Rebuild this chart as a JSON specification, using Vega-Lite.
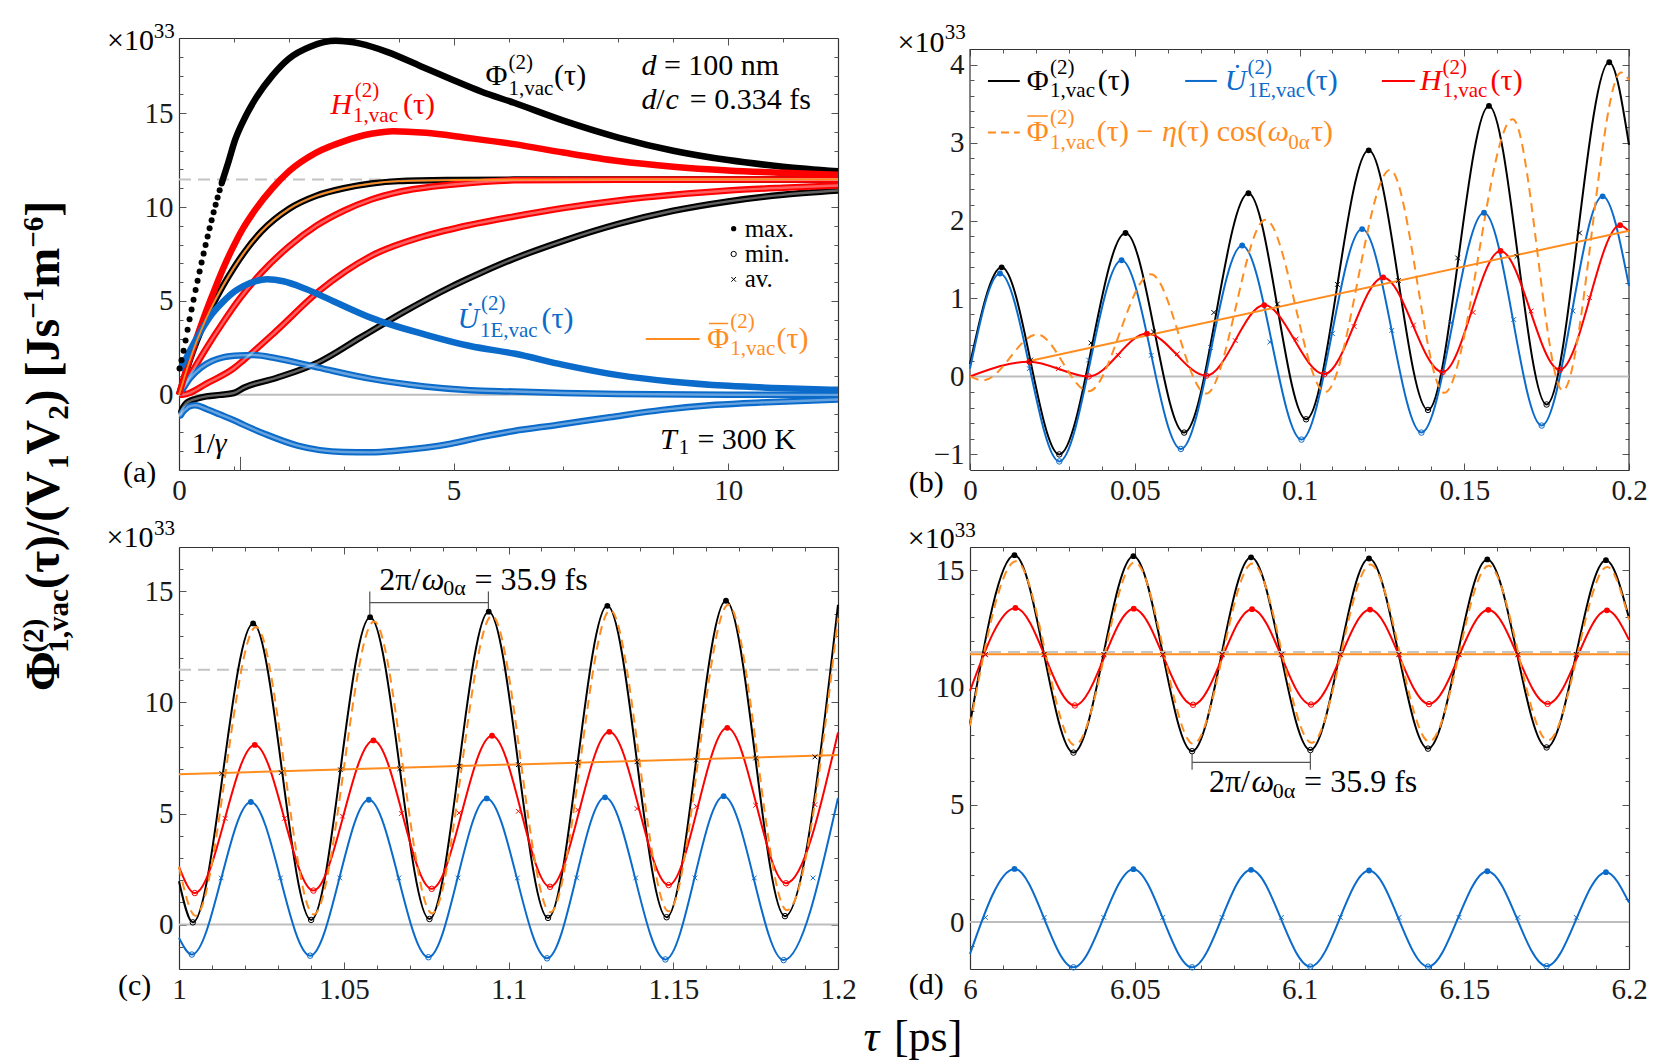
{
"$schema":"https://vega.github.io/schema/vega-lite/v6.json",
"background":"white",
"padding":{"left":20,"top":21,"right":10,"bottom":10},
"autosize":{"type":"pad"},
"config":{"font":"Liberation Serif, Times New Roman, DejaVu Serif, serif","view":{"stroke":null},
"axis":{"labelFont":"Liberation Serif, Times New Roman, DejaVu Serif, serif","labelFontSize":29,"labelColor":"#1a1a1a","tickColor":"#555555","tickWidth":1,"domainColor":"#333333","domainWidth":1.2,"grid":false,"labelFlush":false,"labelOverlap":false},
"text":{"font":"Liberation Serif, Times New Roman, DejaVu Serif, serif"}},
"columns":2,
"spacing":{"row":77,"column":132},
"bounds":"flush",
"datasets":{
"a_band":[
{"s":"P","k":"max","x":0.776,"y":11.26},{"s":"P","k":"max","x":0.9,"y":12.4},{"s":"P","k":"max","x":1.02,"y":13.56},{"s":"P","k":"max","x":1.17,"y":14.58},{"s":"P","k":"max","x":1.4,"y":15.8},{"s":"P","k":"max","x":1.7,"y":17.0},{"s":"P","k":"max","x":2.0,"y":17.9},{"s":"P","k":"max","x":2.4,"y":18.55},{"s":"P","k":"max","x":2.85,"y":18.85},{"s":"P","k":"max","x":3.3,"y":18.7},{"s":"P","k":"max","x":3.8,"y":18.25},{"s":"P","k":"max","x":4.4,"y":17.5},{"s":"P","k":"max","x":5.0,"y":16.75},{"s":"P","k":"max","x":5.5,"y":16.15},{"s":"P","k":"max","x":6.1,"y":15.55},{"s":"P","k":"max","x":7.0,"y":14.6},{"s":"P","k":"max","x":8.0,"y":13.7},{"s":"P","k":"max","x":9.0,"y":13.0},{"s":"P","k":"max","x":10.0,"y":12.5},{"s":"P","k":"max","x":11.0,"y":12.15},{"s":"P","k":"max","x":12,"y":11.9},
{"s":"P","k":"min","x":0,"y":-1.05},{"s":"P","k":"min","x":0.027,"y":-1.0},{"s":"P","k":"min","x":0.065,"y":-0.72},{"s":"P","k":"min","x":0.102,"y":-0.55},{"s":"P","k":"min","x":0.139,"y":-0.43},{"s":"P","k":"min","x":0.175,"y":-0.36},{"s":"P","k":"min","x":0.3,"y":-0.22},{"s":"P","k":"min","x":0.5,"y":-0.08},{"s":"P","k":"min","x":0.75,"y":0.0},{"s":"P","k":"min","x":1.0,"y":0.1},{"s":"P","k":"min","x":1.18,"y":0.38},{"s":"P","k":"min","x":1.77,"y":0.9},{"s":"P","k":"min","x":2.54,"y":1.73},{"s":"P","k":"min","x":3.31,"y":3.06},{"s":"P","k":"min","x":4.08,"y":4.39},{"s":"P","k":"min","x":4.95,"y":5.75},{"s":"P","k":"min","x":5.5,"y":6.5},{"s":"P","k":"min","x":6.1,"y":7.25},{"s":"P","k":"min","x":7.0,"y":8.2},{"s":"P","k":"min","x":8.0,"y":9.1},{"s":"P","k":"min","x":9.0,"y":9.8},{"s":"P","k":"min","x":10.0,"y":10.3},{"s":"P","k":"min","x":11.0,"y":10.65},{"s":"P","k":"min","x":12,"y":10.88},
{"s":"P","k":"av","x":0,"y":0},{"s":"P","k":"av","x":0.1,"y":0.95},{"s":"P","k":"av","x":0.2,"y":1.87},{"s":"P","k":"av","x":0.5,"y":4.1},{"s":"P","k":"av","x":0.8,"y":5.8},{"s":"P","k":"av","x":1.0,"y":6.77},{"s":"P","k":"av","x":1.2,"y":7.63},{"s":"P","k":"av","x":1.5,"y":8.7},{"s":"P","k":"av","x":2.0,"y":9.9},{"s":"P","k":"av","x":2.5,"y":10.6},{"s":"P","k":"av","x":3.0,"y":11.0},{"s":"P","k":"av","x":3.5,"y":11.25},{"s":"P","k":"av","x":4.0,"y":11.38},{"s":"P","k":"av","x":5.0,"y":11.44},{"s":"P","k":"av","x":6.1,"y":11.46},{"s":"P","k":"av","x":12,"y":11.47},
{"s":"H","k":"max","x":0,"y":0},{"s":"H","k":"max","x":0.018,"y":0.19},{"s":"H","k":"max","x":0.054,"y":0.55},{"s":"H","k":"max","x":0.089,"y":0.915},{"s":"H","k":"max","x":0.125,"y":1.27},{"s":"H","k":"max","x":0.161,"y":1.61},{"s":"H","k":"max","x":0.197,"y":1.94},{"s":"H","k":"max","x":0.3,"y":2.85},{"s":"H","k":"max","x":0.45,"y":4.1},{"s":"H","k":"max","x":0.6,"y":5.25},{"s":"H","k":"max","x":0.8,"y":6.7},{"s":"H","k":"max","x":1.023,"y":8.09},{"s":"H","k":"max","x":1.166,"y":8.86},{"s":"H","k":"max","x":1.4,"y":9.9},{"s":"H","k":"max","x":1.7,"y":11.0},{"s":"H","k":"max","x":2.0,"y":11.9},{"s":"H","k":"max","x":2.5,"y":12.9},{"s":"H","k":"max","x":3.0,"y":13.5},{"s":"H","k":"max","x":3.5,"y":13.9},{"s":"H","k":"max","x":3.9,"y":14.04},{"s":"H","k":"max","x":4.5,"y":13.95},{"s":"H","k":"max","x":5.2,"y":13.7},{"s":"H","k":"max","x":6.1,"y":13.35},{"s":"H","k":"max","x":7.0,"y":12.9},{"s":"H","k":"max","x":8.0,"y":12.45},{"s":"H","k":"max","x":9.0,"y":12.15},{"s":"H","k":"max","x":10.0,"y":11.95},{"s":"H","k":"max","x":11.0,"y":11.82},{"s":"H","k":"max","x":12,"y":11.72},
{"s":"H","k":"av","x":0,"y":0},{"s":"H","k":"av","x":0.1,"y":0.48},{"s":"H","k":"av","x":0.2,"y":1.02},{"s":"H","k":"av","x":0.5,"y":2.5},{"s":"H","k":"av","x":0.8,"y":3.85},{"s":"H","k":"av","x":1.1,"y":5.1},{"s":"H","k":"av","x":1.5,"y":6.5},{"s":"H","k":"av","x":2.0,"y":7.9},{"s":"H","k":"av","x":2.5,"y":9.0},{"s":"H","k":"av","x":3.0,"y":9.8},{"s":"H","k":"av","x":3.5,"y":10.4},{"s":"H","k":"av","x":4.0,"y":10.8},{"s":"H","k":"av","x":5.0,"y":11.2},{"s":"H","k":"av","x":6.1,"y":11.42},{"s":"H","k":"av","x":8,"y":11.45},{"s":"H","k":"av","x":12,"y":11.47},
{"s":"H","k":"min","x":0,"y":0},{"s":"H","k":"min","x":0.036,"y":0.0},{"s":"H","k":"min","x":0.108,"y":0.03},{"s":"H","k":"min","x":0.179,"y":0.085},{"s":"H","k":"min","x":0.5,"y":0.6},{"s":"H","k":"min","x":1.0,"y":1.42},{"s":"H","k":"min","x":1.18,"y":1.86},{"s":"H","k":"min","x":1.77,"y":3.4},{"s":"H","k":"min","x":2.54,"y":5.5},{"s":"H","k":"min","x":3.5,"y":7.4},{"s":"H","k":"min","x":4.47,"y":8.45},{"s":"H","k":"min","x":5.3,"y":9.05},{"s":"H","k":"min","x":6.1,"y":9.5},{"s":"H","k":"min","x":7.0,"y":9.95},{"s":"H","k":"min","x":8.0,"y":10.35},{"s":"H","k":"min","x":9.0,"y":10.65},{"s":"H","k":"min","x":10.0,"y":10.88},{"s":"H","k":"min","x":11.0,"y":11.03},{"s":"H","k":"min","x":12,"y":11.15},
{"s":"U","k":"max","x":0.009,"y":1.32},{"s":"U","k":"max","x":0.046,"y":1.49},{"s":"U","k":"max","x":0.083,"y":1.68},{"s":"U","k":"max","x":0.119,"y":1.89},{"s":"U","k":"max","x":0.156,"y":2.1},{"s":"U","k":"max","x":0.192,"y":2.31},{"s":"U","k":"max","x":0.4,"y":3.4},{"s":"U","k":"max","x":0.6,"y":4.3},{"s":"U","k":"max","x":0.8,"y":4.95},{"s":"U","k":"max","x":1.02,"y":5.52},{"s":"U","k":"max","x":1.165,"y":5.78},{"s":"U","k":"max","x":1.4,"y":6.05},{"s":"U","k":"max","x":1.6,"y":6.15},{"s":"U","k":"max","x":1.9,"y":6.05},{"s":"U","k":"max","x":2.3,"y":5.65},{"s":"U","k":"max","x":2.8,"y":5.0},{"s":"U","k":"max","x":3.5,"y":4.1},{"s":"U","k":"max","x":4.5,"y":3.2},{"s":"U","k":"max","x":5.3,"y":2.6},{"s":"U","k":"max","x":6.1,"y":2.2},{"s":"U","k":"max","x":7.0,"y":1.6},{"s":"U","k":"max","x":8.0,"y":1.05},{"s":"U","k":"max","x":9.0,"y":0.7},{"s":"U","k":"max","x":10.0,"y":0.48},{"s":"U","k":"max","x":11.0,"y":0.35},{"s":"U","k":"max","x":12,"y":0.27},
{"s":"U","k":"av","x":0,"y":0},{"s":"U","k":"av","x":0.018,"y":0.1},{"s":"U","k":"av","x":0.1,"y":0.45},{"s":"U","k":"av","x":0.2,"y":0.88},{"s":"U","k":"av","x":0.4,"y":1.45},{"s":"U","k":"av","x":0.6,"y":1.8},{"s":"U","k":"av","x":0.8,"y":2.0},{"s":"U","k":"av","x":1.1,"y":2.1},{"s":"U","k":"av","x":1.35,"y":2.12},{"s":"U","k":"av","x":1.77,"y":1.95},{"s":"U","k":"av","x":2.54,"y":1.45},{"s":"U","k":"av","x":3.5,"y":0.85},{"s":"U","k":"av","x":4.47,"y":0.45},{"s":"U","k":"av","x":5.3,"y":0.25},{"s":"U","k":"av","x":6.1,"y":0.18},{"s":"U","k":"av","x":7.0,"y":0.1},{"s":"U","k":"av","x":8.0,"y":0.05},{"s":"U","k":"av","x":10,"y":0.01},{"s":"U","k":"av","x":12,"y":0.0},
{"s":"U","k":"min","x":0,"y":-1.1},{"s":"U","k":"min","x":0.027,"y":-1.09},{"s":"U","k":"min","x":0.064,"y":-0.93},{"s":"U","k":"min","x":0.1,"y":-0.81},{"s":"U","k":"min","x":0.137,"y":-0.72},{"s":"U","k":"min","x":0.174,"y":-0.63},{"s":"U","k":"min","x":0.3,"y":-0.55},{"s":"U","k":"min","x":0.5,"y":-0.75},{"s":"U","k":"min","x":0.75,"y":-1.05},{"s":"U","k":"min","x":1.0,"y":-1.35},{"s":"U","k":"min","x":1.18,"y":-1.6},{"s":"U","k":"min","x":1.58,"y":-2.1},{"s":"U","k":"min","x":2.16,"y":-2.7},{"s":"U","k":"min","x":3.0,"y":-3.04},{"s":"U","k":"min","x":3.5,"y":-3.06},{"s":"U","k":"min","x":4.0,"y":-2.96},{"s":"U","k":"min","x":4.95,"y":-2.6},{"s":"U","k":"min","x":5.5,"y":-2.25},{"s":"U","k":"min","x":6.1,"y":-1.92},{"s":"U","k":"min","x":6.88,"y":-1.6},{"s":"U","k":"min","x":7.84,"y":-1.19},{"s":"U","k":"min","x":8.8,"y":-0.8},{"s":"U","k":"min","x":9.77,"y":-0.53},{"s":"U","k":"min","x":10.7,"y":-0.39},{"s":"U","k":"min","x":12,"y":-0.25}
],
"a_dots":[{"x":0.0096,"y":1.4},{"x":0.046,"y":1.84},{"x":0.083,"y":2.35},{"x":0.12,"y":2.9},{"x":0.156,"y":3.47},{"x":0.192,"y":4.03},{"x":0.229,"y":4.55},{"x":0.265,"y":5.07},{"x":0.302,"y":5.58},{"x":0.338,"y":6.08},{"x":0.375,"y":6.57},{"x":0.411,"y":7.05},{"x":0.448,"y":7.52},{"x":0.484,"y":7.98},{"x":0.521,"y":8.43},{"x":0.557,"y":8.87},{"x":0.594,"y":9.3},{"x":0.63,"y":9.72},{"x":0.667,"y":10.12},{"x":0.703,"y":10.51},{"x":0.74,"y":10.89},{"x":0.776,"y":11.26}],
"a_tb":[{"x":5.58,"y":16.96,"t":"Φ","s":"P"},{"x":6.83,"y":17.0,"t":"(τ)","s":"P"},{"x":8.83,"y":17.49,"t":"= 100 nm","s":"P"},{"x":8.69,"y":15.72,"t":"/","s":"P"},{"x":9.3,"y":15.72,"t":"= 0.334 fs","s":"P"},{"x":4.08,"y":15.45,"t":"(τ)","s":"H"},{"x":6.6,"y":4.04,"t":"(τ)","s":"U"},{"x":9.62,"y":2.97,"t":"Φ","s":"O"},{"x":10.88,"y":2.97,"t":"(τ)","s":"O"},{"x":9.44,"y":-2.39,"t":"= 300 K","s":"P"},{"x":0.23,"y":-2.6,"t":"1/","s":"P"},{"x":-1.02,"y":-4.15,"t":"(a)","s":"P"},{"x":-1.31,"y":18.85,"t":"×10","s":"P"}],
"a_leg":[{"x":10.3,"y":8.85,"t":"max."},{"x":10.3,"y":7.5,"t":"min."},{"x":10.3,"y":6.15,"t":"av."}],
"a_ti":[{"x":8.42,"y":17.49,"t":"d","s":"P"},{"x":8.42,"y":15.72,"t":"d","s":"P"},{"x":8.86,"y":15.72,"t":"c","s":"P"},{"x":2.76,"y":15.45,"t":"H","s":"H"},{"x":5.07,"y":4.04,"t":"U̇","s":"U"},{"x":8.76,"y":-2.39,"t":"T","s":"P"},{"x":0.65,"y":-2.6,"t":"γ","s":"P"}],
"a_ts":[{"x":6.0,"y":17.66,"t":"(2)","s":"P"},{"x":6.0,"y":16.3,"t":"1,vac","s":"P"},{"x":3.2,"y":16.16,"t":"(2)","s":"H"},{"x":3.17,"y":14.83,"t":"1,vac","s":"H"},{"x":5.5,"y":4.83,"t":"(2)","s":"U"},{"x":5.48,"y":3.42,"t":"1E,vac","s":"U"},{"x":10.04,"y":3.86,"t":"(2)","s":"O"},{"x":10.04,"y":2.44,"t":"1,vac","s":"O"},{"x":9.1,"y":-2.85,"t":"1","s":"P"},{"x":-0.46,"y":19.3,"t":"33","s":"P"}],
"a_yb":[{"x":-2.436,"y":-15.77,"t":"Φ"},{"x":-2.436,"y":-10.34,"t":"(τ)/(V"},{"x":-2.436,"y":-3.18,"t":"V"},{"x":-2.436,"y":-0.56,"t":") [Js"},{"x":-2.436,"y":5.7,"t":"m"},{"x":-2.436,"y":9.48,"t":"]"}],
"a_ys":[{"x":-2.636,"y":-13.73,"t":"(2)"},{"x":-2.18,"y":-13.73,"t":"1,vac"},{"x":-2.18,"y":-3.95,"t":"1"},{"x":-2.18,"y":-1.33,"t":"2"},{"x":-2.636,"y":4.05,"t":"−1"},{"x":-2.636,"y":7.83,"t":"−6"}],
"b_curves":[
{"s":"P","k":"end","x":0,"y":0.16},{"s":"P","k":"max","x":0.0096,"y":1.4},{"s":"P","k":"min","x":0.0271,"y":-1.0},{"s":"P","k":"max","x":0.0472,"y":1.84},{"s":"P","k":"min","x":0.065,"y":-0.72},{"s":"P","k":"max","x":0.0845,"y":2.35},{"s":"P","k":"min","x":0.102,"y":-0.55},{"s":"P","k":"max","x":0.121,"y":2.9},{"s":"P","k":"min","x":0.139,"y":-0.43},{"s":"P","k":"max","x":0.1575,"y":3.47},{"s":"P","k":"min","x":0.175,"y":-0.36},{"s":"P","k":"max","x":0.194,"y":4.03},{"s":"P","k":"end","x":0.2,"y":2.97},
{"s":"U","k":"end","x":0,"y":0.1},{"s":"U","k":"max","x":0.0091,"y":1.32},{"s":"U","k":"min","x":0.0271,"y":-1.09},{"s":"U","k":"max","x":0.046,"y":1.49},{"s":"U","k":"min","x":0.064,"y":-0.93},{"s":"U","k":"max","x":0.0826,"y":1.68},{"s":"U","k":"min","x":0.1006,"y":-0.81},{"s":"U","k":"max","x":0.119,"y":1.89},{"s":"U","k":"min","x":0.137,"y":-0.72},{"s":"U","k":"max","x":0.156,"y":2.1},{"s":"U","k":"min","x":0.1735,"y":-0.63},{"s":"U","k":"max","x":0.192,"y":2.31},{"s":"U","k":"end","x":0.2,"y":1.16},
{"s":"H","k":"end","x":0,"y":0},{"s":"H","k":"max","x":0.018,"y":0.19},{"s":"H","k":"min","x":0.036,"y":0.0},{"s":"H","k":"max","x":0.0537,"y":0.55},{"s":"H","k":"min","x":0.0717,"y":0.01},{"s":"H","k":"max","x":0.0893,"y":0.915},{"s":"H","k":"min","x":0.1075,"y":0.03},{"s":"H","k":"max","x":0.1254,"y":1.27},{"s":"H","k":"min","x":0.1434,"y":0.055},{"s":"H","k":"max","x":0.161,"y":1.61},{"s":"H","k":"min","x":0.179,"y":0.085},{"s":"H","k":"max","x":0.1973,"y":1.94},{"s":"H","k":"end","x":0.2,"y":1.86},
{"s":"O","k":"end","x":0,"y":0.0},{"s":"O","k":"min","x":0.004,"y":-0.05},{"s":"O","k":"max","x":0.0204,"y":0.54},{"s":"O","k":"min","x":0.036,"y":-0.19},{"s":"O","k":"max","x":0.0549,"y":1.31},{"s":"O","k":"min","x":0.0717,"y":-0.22},{"s":"O","k":"max","x":0.0897,"y":2.01},{"s":"O","k":"min","x":0.1078,"y":-0.2},{"s":"O","k":"max","x":0.1275,"y":2.65},{"s":"O","k":"min","x":0.1439,"y":-0.21},{"s":"O","k":"max","x":0.1647,"y":3.3},{"s":"O","k":"min","x":0.1799,"y":-0.18},{"s":"O","k":"max","x":0.1976,"y":3.9},{"s":"O","k":"end","x":0.2,"y":3.8}
],
"b_av":[{"s":"P","x":0.0184,"y":0.21},{"s":"P","x":0.0367,"y":0.43},{"s":"P","x":0.0557,"y":0.57},{"s":"P","x":0.074,"y":0.82},{"s":"P","x":0.0933,"y":0.93},{"s":"P","x":0.1115,"y":1.18},{"s":"P","x":0.13,"y":1.23},{"s":"P","x":0.148,"y":1.52},{"s":"P","x":0.166,"y":1.54},{"s":"P","x":0.185,"y":1.84},
{"s":"U","x":0.018,"y":0.1},{"s":"U","x":0.036,"y":0.21},{"s":"U","x":0.055,"y":0.27},{"s":"U","x":0.073,"y":0.37},{"s":"U","x":0.091,"y":0.44},{"s":"U","x":0.11,"y":0.55},{"s":"U","x":0.128,"y":0.59},{"s":"U","x":0.146,"y":0.69},{"s":"U","x":0.165,"y":0.73},{"s":"U","x":0.183,"y":0.84},
{"s":"H","x":0.0268,"y":0.1},{"s":"H","x":0.045,"y":0.27},{"s":"H","x":0.0629,"y":0.29},{"s":"H","x":0.0805,"y":0.46},{"s":"H","x":0.099,"y":0.48},{"s":"H","x":0.1166,"y":0.64},{"s":"H","x":0.1346,"y":0.66},{"s":"H","x":0.1527,"y":0.82},{"s":"H","x":0.1703,"y":0.84},{"s":"H","x":0.188,"y":1.01}],
"b_tb":[{"x":0.0172,"y":3.79,"t":"Φ","s":"P"},{"x":0.0388,"y":3.79,"t":"(τ)","s":"P"},{"x":0.1019,"y":3.79,"t":"(τ)","s":"U"},{"x":0.158,"y":3.79,"t":"(τ)","s":"H"},{"x":0.0172,"y":3.13,"t":"Φ","s":"O"},{"x":0.0385,"y":3.13,"t":"(τ) −","s":"O"},{"x":0.0629,"y":3.13,"t":"(τ) cos(","s":"O"},{"x":0.1035,"y":3.13,"t":"τ)","s":"O"},{"x":-0.0186,"y":-1.37,"t":"(b)","s":"P"},{"x":-0.022,"y":4.28,"t":"×10","s":"P"}],
"b_ti":[{"x":0.0773,"y":3.79,"t":"U̇","s":"U"},{"x":0.1366,"y":3.79,"t":"H","s":"H"},{"x":0.0583,"y":3.13,"t":"η","s":"O"},{"x":0.0904,"y":3.13,"t":"ω","s":"O"}],
"b_ts":[{"x":0.0243,"y":3.95,"t":"(2)","s":"P"},{"x":0.0243,"y":3.66,"t":"1,vac","s":"P"},{"x":0.0842,"y":3.95,"t":"(2)","s":"U"},{"x":0.0842,"y":3.66,"t":"1E,vac","s":"U"},{"x":0.1434,"y":3.95,"t":"(2)","s":"H"},{"x":0.1434,"y":3.66,"t":"1,vac","s":"H"},{"x":0.0243,"y":3.31,"t":"(2)","s":"O"},{"x":0.0243,"y":3.0,"t":"1,vac","s":"O"},{"x":0.0966,"y":3.0,"t":"0α","s":"O"},{"x":-0.0077,"y":4.4,"t":"33","s":"P"}],
"b_leg":[{"x":0.00545,"x2":0.0151,"y":3.79,"s":"P"},{"x":0.0653,"x2":0.0749,"y":3.79,"s":"U"},{"x":0.125,"x2":0.135,"y":3.79,"s":"H"}],
"c_curves":[
{"s":"P","k":"end","x":1.0,"y":1.95},{"s":"P","k":"min","x":1.0042,"y":0.1},{"s":"P","k":"max","x":1.0225,"y":13.56},{"s":"P","k":"min","x":1.0401,"y":0.21},{"s":"P","k":"max","x":1.058,"y":13.84},{"s":"P","k":"min","x":1.076,"y":0.25},{"s":"P","k":"max","x":1.094,"y":14.09},{"s":"P","k":"min","x":1.112,"y":0.3},{"s":"P","k":"max","x":1.13,"y":14.35},{"s":"P","k":"min","x":1.148,"y":0.33},{"s":"P","k":"max","x":1.166,"y":14.58},{"s":"P","k":"min","x":1.1839,"y":0.38},{"s":"P","k":"end","x":1.2,"y":14.4},
{"s":"U","k":"end","x":1.0,"y":-0.6},{"s":"U","k":"min","x":1.0039,"y":-1.35},{"s":"U","k":"max","x":1.0218,"y":5.52},{"s":"U","k":"min","x":1.0398,"y":-1.4},{"s":"U","k":"max","x":1.0576,"y":5.62},{"s":"U","k":"min","x":1.0757,"y":-1.47},{"s":"U","k":"max","x":1.0934,"y":5.68},{"s":"U","k":"min","x":1.1117,"y":-1.52},{"s":"U","k":"max","x":1.1293,"y":5.73},{"s":"U","k":"min","x":1.1476,"y":-1.57},{"s":"U","k":"max","x":1.1653,"y":5.78},{"s":"U","k":"min","x":1.1835,"y":-1.6},{"s":"U","k":"end","x":1.2,"y":5.7},
{"s":"H","k":"end","x":1.0,"y":2.6},{"s":"H","k":"min","x":1.0048,"y":1.42},{"s":"H","k":"max","x":1.023,"y":8.09},{"s":"H","k":"min","x":1.0408,"y":1.53},{"s":"H","k":"max","x":1.059,"y":8.29},{"s":"H","k":"min","x":1.0767,"y":1.61},{"s":"H","k":"max","x":1.095,"y":8.5},{"s":"H","k":"min","x":1.1126,"y":1.7},{"s":"H","k":"max","x":1.1306,"y":8.68},{"s":"H","k":"min","x":1.1486,"y":1.78},{"s":"H","k":"max","x":1.1664,"y":8.86},{"s":"H","k":"min","x":1.1842,"y":1.86},{"s":"H","k":"end","x":1.2,"y":8.65},
{"s":"O","k":"end","x":1.0,"y":2.6},{"s":"O","k":"min","x":1.005,"y":0.4},{"s":"O","k":"max","x":1.0234,"y":13.4},{"s":"O","k":"min","x":1.0409,"y":0.45},{"s":"O","k":"max","x":1.0592,"y":13.65},{"s":"O","k":"min","x":1.0768,"y":0.5},{"s":"O","k":"max","x":1.095,"y":13.9},{"s":"O","k":"min","x":1.1127,"y":0.55},{"s":"O","k":"max","x":1.1309,"y":14.15},{"s":"O","k":"min","x":1.1486,"y":0.6},{"s":"O","k":"max","x":1.1667,"y":14.4},{"s":"O","k":"min","x":1.1845,"y":0.65},{"s":"O","k":"end","x":1.2,"y":13.8}
],
"c_av":[{"s":"P","x":1.013,"y":6.8},{"s":"P","x":1.031,"y":6.84},{"s":"P","x":1.049,"y":6.97},{"s":"P","x":1.067,"y":7.02},{"s":"P","x":1.085,"y":7.13},{"s":"P","x":1.103,"y":7.2},{"s":"P","x":1.121,"y":7.3},{"s":"P","x":1.139,"y":7.33},{"s":"P","x":1.157,"y":7.41},{"s":"P","x":1.175,"y":7.5},{"s":"P","x":1.193,"y":7.55},
{"s":"H","x":1.014,"y":4.78},{"s":"H","x":1.032,"y":4.78},{"s":"H","x":1.0496,"y":4.88},{"s":"H","x":1.0675,"y":5.0},{"s":"H","x":1.085,"y":5.03},{"s":"H","x":1.103,"y":5.1},{"s":"H","x":1.121,"y":5.16},{"s":"H","x":1.139,"y":5.22},{"s":"H","x":1.157,"y":5.32},{"s":"H","x":1.175,"y":5.37},{"s":"H","x":1.193,"y":5.4},
{"s":"U","x":1.0128,"y":2.1},{"s":"U","x":1.0308,"y":2.1},{"s":"U","x":1.0488,"y":2.1},{"s":"U","x":1.0667,"y":2.1},{"s":"U","x":1.0847,"y":2.1},{"s":"U","x":1.1027,"y":2.1},{"s":"U","x":1.1207,"y":2.1},{"s":"U","x":1.1386,"y":2.1},{"s":"U","x":1.1566,"y":2.1},{"s":"U","x":1.1746,"y":2.1},{"s":"U","x":1.1924,"y":2.1}],
"c_an":[{"x":1.0608,"y":15.53,"t":"2π/"},{"x":1.0897,"y":15.53,"t":"= 35.9 fs"}],
"c_ani":[{"x":1.0737,"y":15.53,"t":"ω"}],
"c_ans":[{"x":1.0802,"y":15.17,"t":"0α"}],
"c_tb":[{"x":0.9815,"y":-2.75,"t":"(c)"},{"x":0.978,"y":17.4,"t":"×10"}],
"c_ts":[{"x":0.9924,"y":17.8,"t":"33"}],
"c_br":[{"x":1.0579,"x2":1.0579,"y":13.95,"y2":15.0},{"x":1.0939,"x2":1.0939,"y":14.2,"y2":15.0},{"x":1.0579,"x2":1.0939,"y":14.5,"y2":14.5}],
"d_curves":[
{"s":"P","k":"end","x":6.0,"y":8.46},{"s":"P","k":"max","x":6.0135,"y":15.65},{"s":"P","k":"min","x":6.0314,"y":7.23},{"s":"P","k":"max","x":6.0496,"y":15.61},{"s":"P","k":"min","x":6.0674,"y":7.29},{"s":"P","k":"max","x":6.0853,"y":15.56},{"s":"P","k":"min","x":6.1033,"y":7.34},{"s":"P","k":"max","x":6.1211,"y":15.51},{"s":"P","k":"min","x":6.139,"y":7.4},{"s":"P","k":"max","x":6.157,"y":15.47},{"s":"P","k":"min","x":6.175,"y":7.45},{"s":"P","k":"max","x":6.193,"y":15.44},{"s":"P","k":"end","x":6.2,"y":12.97},
{"s":"U","k":"end","x":6.0,"y":-1.36},{"s":"U","k":"max","x":6.0135,"y":2.27},{"s":"U","k":"min","x":6.0314,"y":-1.93},{"s":"U","k":"max","x":6.0496,"y":2.26},{"s":"U","k":"min","x":6.0674,"y":-1.93},{"s":"U","k":"max","x":6.0853,"y":2.23},{"s":"U","k":"min","x":6.1033,"y":-1.9},{"s":"U","k":"max","x":6.1211,"y":2.2},{"s":"U","k":"min","x":6.139,"y":-1.9},{"s":"U","k":"max","x":6.157,"y":2.17},{"s":"U","k":"min","x":6.175,"y":-1.88},{"s":"U","k":"max","x":6.193,"y":2.13},{"s":"U","k":"end","x":6.2,"y":0.83},
{"s":"H","k":"end","x":6.0,"y":9.86},{"s":"H","k":"max","x":6.0138,"y":13.4},{"s":"H","k":"min","x":6.0318,"y":9.24},{"s":"H","k":"max","x":6.0497,"y":13.37},{"s":"H","k":"min","x":6.0677,"y":9.27},{"s":"H","k":"max","x":6.0856,"y":13.35},{"s":"H","k":"min","x":6.1035,"y":9.28},{"s":"H","k":"max","x":6.1214,"y":13.33},{"s":"H","k":"min","x":6.1393,"y":9.3},{"s":"H","k":"max","x":6.1573,"y":13.32},{"s":"H","k":"min","x":6.1753,"y":9.31},{"s":"H","k":"max","x":6.1933,"y":13.3},{"s":"H","k":"end","x":6.2,"y":12.04},
{"s":"O","k":"end","x":6.0,"y":8.38},{"s":"O","k":"max","x":6.014,"y":15.39},{"s":"O","k":"min","x":6.0318,"y":7.55},{"s":"O","k":"max","x":6.05,"y":15.35},{"s":"O","k":"min","x":6.0678,"y":7.6},{"s":"O","k":"max","x":6.0857,"y":15.3},{"s":"O","k":"min","x":6.1037,"y":7.65},{"s":"O","k":"max","x":6.1215,"y":15.25},{"s":"O","k":"min","x":6.1394,"y":7.7},{"s":"O","k":"max","x":6.1574,"y":15.2},{"s":"O","k":"min","x":6.1754,"y":7.75},{"s":"O","k":"max","x":6.1934,"y":15.15},{"s":"O","k":"end","x":6.2,"y":12.9}
],
"d_av":[{"s":"P","x":6.0047,"y":11.42},{"s":"P","x":6.0225,"y":11.42},{"s":"P","x":6.0406,"y":11.42},{"s":"P","x":6.0585,"y":11.42},{"s":"P","x":6.0765,"y":11.42},{"s":"P","x":6.0945,"y":11.42},{"s":"P","x":6.1124,"y":11.42},{"s":"P","x":6.1302,"y":11.42},{"s":"P","x":6.1484,"y":11.42},{"s":"P","x":6.1663,"y":11.42},{"s":"P","x":6.184,"y":11.42},
{"s":"H","x":6.0047,"y":11.4},{"s":"H","x":6.0225,"y":11.4},{"s":"H","x":6.0406,"y":11.4},{"s":"H","x":6.0585,"y":11.4},{"s":"H","x":6.0765,"y":11.4},{"s":"H","x":6.0945,"y":11.4},{"s":"H","x":6.1124,"y":11.4},{"s":"H","x":6.1302,"y":11.4},{"s":"H","x":6.1484,"y":11.4},{"s":"H","x":6.1663,"y":11.4},{"s":"H","x":6.184,"y":11.4},
{"s":"U","x":6.0047,"y":0.2},{"s":"U","x":6.0225,"y":0.2},{"s":"U","x":6.0406,"y":0.2},{"s":"U","x":6.0585,"y":0.2},{"s":"U","x":6.0765,"y":0.2},{"s":"U","x":6.0945,"y":0.2},{"s":"U","x":6.1124,"y":0.2},{"s":"U","x":6.1302,"y":0.2},{"s":"U","x":6.1484,"y":0.2},{"s":"U","x":6.1663,"y":0.2},{"s":"U","x":6.184,"y":0.2}],
"d_an":[{"x":6.0725,"y":5.97,"t":"2π/"},{"x":6.1014,"y":5.97,"t":"= 35.9 fs"}],
"d_ani":[{"x":6.0854,"y":5.97,"t":"ω"}],
"d_ans":[{"x":6.0919,"y":5.58,"t":"0α"}],
"d_tb":[{"x":5.9814,"y":-2.68,"t":"(d)"},{"x":5.9811,"y":16.34,"t":"×10"}],
"d_ts":[{"x":5.9954,"y":16.68,"t":"33"}],
"d_xt":[{"x":5.9769,"y":-4.95,"t":"[ps]"}],
"d_xti":[{"x":5.9677,"y":-4.95,"t":"τ"}],
"d_br":[{"x":6.0674,"x2":6.0674,"y":7.2,"y2":6.5},{"x":6.1033,"x2":6.1033,"y":7.25,"y2":6.5},{"x":6.0674,"x2":6.1033,"y":6.81,"y2":6.81}]
},
"concat":[
{"width":659,"height":432,
"encoding":{"x":{"field":"x","type":"quantitative","scale":{"domain":[0,12],"nice":false,"zero":false},"axis":null},"y":{"field":"y","type":"quantitative","scale":{"domain":[-4,19],"nice":false,"zero":false},"axis":null}},
"resolve":{"axis":{"x":"independent","y":"independent"}},
"layer":[
{"data":{"values":[]},"mark":"point","encoding":{"x":{"field":"x","type":"quantitative","axis":{"orient":"bottom","values":[0,5,10],"format":".2~f","ticks":false,"domain":true,"labelPadding":6,"title":null}},"y":{"field":"y","type":"quantitative","axis":{"orient":"left","values":[0,5,10,15],"format":".2~f","ticks":false,"domain":true,"labelPadding":6,"title":null}}}},
{"data":{"values":[]},"mark":"point","encoding":{"x":{"field":"x","type":"quantitative","axis":{"orient":"bottom","values":[0,5,10],"labels":false,"domain":false,"tickSize":-7,"title":null}},"y":{"field":"y","type":"quantitative","axis":{"orient":"left","values":[0,5,10,15],"labels":false,"domain":false,"tickSize":-7,"title":null}}}},
{"data":{"values":[]},"mark":"point","encoding":{"x":{"field":"x","type":"quantitative","axis":{"orient":"bottom","values":[1,2,3,4,6,7,8,9,11],"labels":false,"domain":false,"tickSize":-4,"title":null}},"y":{"field":"y","type":"quantitative","axis":{"orient":"left","values":[-3,-2,-1,1,2,3,4,6,7,8,9,11,12,13,14,16,17,18],"labels":false,"domain":false,"tickSize":-4,"title":null}}}},
{"data":{"values":[]},"mark":"point","encoding":{"x":{"field":"x","type":"quantitative","axis":{"orient":"top","values":[0,5,10],"labels":false,"domain":true,"tickSize":-7,"title":null}},"y":{"field":"y","type":"quantitative","axis":{"orient":"right","values":[0,5,10,15],"labels":false,"domain":true,"tickSize":-7,"title":null}}}},
{"data":{"values":[]},"mark":"point","encoding":{"x":{"field":"x","type":"quantitative","axis":{"orient":"top","values":[1,2,3,4,6,7,8,9,11],"labels":false,"domain":false,"tickSize":-4,"title":null}},"y":{"field":"y","type":"quantitative","axis":{"orient":"right","values":[-3,-2,-1,1,2,3,4,6,7,8,9,11,12,13,14,16,17,18],"labels":false,"domain":false,"tickSize":-4,"title":null}}}},
{"data":{"values":[{"x":0,"x2":12,"y":0}]},"mark":{"type":"rule","color":"#bdbdbd","strokeWidth":2},"encoding":{"x2":{"field":"x2"}}},
{"data":{"values":[{"x":0,"x2":12,"y":11.47}]},"mark":{"type":"rule","color":"#c4c4c4","strokeWidth":2,"strokeDash":[12,7]},"encoding":{"x2":{"field":"x2"}}},
{"data":{"name":"a_band"},"transform":[{"filter":"datum.k != 'max'"}],"mark":{"type":"line","strokeWidth":6.5,"interpolate":"monotone"},"encoding":{"color":{"field":"s","type":"nominal","scale":{"domain":["P","U","H","O"],"range":["#000000","#0B6BCB","#FF0000","#FF8C1F"]},"legend":null},"detail":{"field":"k"}}},
{"data":{"name":"a_band"},"transform":[{"filter":"datum.k != 'max'"}],"mark":{"type":"line","strokeWidth":2.4,"interpolate":"monotone","color":"white","opacity":0.38},"encoding":{"detail":[{"field":"s"},{"field":"k"}]}},
{"data":{"name":"a_band"},"transform":[{"filter":"datum.k == 'max'"}],"mark":{"type":"line","strokeWidth":6.5,"interpolate":"monotone"},"encoding":{"color":{"field":"s","type":"nominal","scale":{"domain":["P","U","H","O"],"range":["#000000","#0B6BCB","#FF0000","#FF8C1F"]},"legend":null}}},
{"data":{"name":"a_dots"},"mark":{"type":"point","filled":true,"size":36,"color":"#000000","opacity":1}},
{"data":{"name":"a_band"},"transform":[{"filter":"datum.k == 'av' && datum.s == 'P'"}],"mark":{"type":"line","strokeWidth":1.8,"interpolate":"monotone","color":"#FF8C1F"}},
{"data":{"values":[{"x":8.5,"x2":9.48,"y":2.97}]},"mark":{"type":"rule","color":"#FF8C1F","strokeWidth":2},"encoding":{"x2":{"field":"x2"}}},
{"data":{"values":[{"x":9.65,"x2":10.0,"y":3.8}]},"mark":{"type":"rule","color":"#FF8C1F","strokeWidth":1.5},"encoding":{"x2":{"field":"x2"}}},
{"data":{"values":[{"x":1.12,"y":-4,"y2":-3.3}]},"mark":{"type":"rule","color":"#555555","strokeWidth":1},"encoding":{"y2":{"field":"y2"}}},
{"data":{"values":[{"x":10.1,"y":8.85}]},"mark":{"type":"point","filled":true,"size":28,"color":"#000000","opacity":1}},
{"data":{"values":[{"x":10.1,"y":7.5}]},"mark":{"type":"point","filled":false,"size":28,"color":"#000000","strokeWidth":1,"opacity":1}},
{"data":{"values":[{"x":10.1,"y":6.15}]},"mark":{"type":"point","filled":false,"shape":"M-1,-1L1,1M-1,1L1,-1","size":22,"color":"#000000","strokeWidth":1,"opacity":1}},
{"data":{"name":"a_leg"},"mark":{"type":"text","fontSize":25,"align":"left","baseline":"middle","color":"#000000"},"encoding":{"text":{"field":"t"}}},
{"data":{"name":"a_tb"},"mark":{"type":"text","fontSize":30,"align":"left","baseline":"middle"},"encoding":{"text":{"field":"t"},"color":{"field":"s","type":"nominal","scale":{"domain":["P","U","H","O"],"range":["#000000","#0B6BCB","#FF0000","#FF8C1F"]},"legend":null}}},
{"data":{"name":"a_ti"},"mark":{"type":"text","fontSize":30,"fontStyle":"italic","align":"left","baseline":"middle"},"encoding":{"text":{"field":"t"},"color":{"field":"s","type":"nominal","scale":{"domain":["P","U","H","O"],"range":["#000000","#0B6BCB","#FF0000","#FF8C1F"]},"legend":null}}},
{"data":{"name":"a_ts"},"mark":{"type":"text","fontSize":21,"align":"left","baseline":"middle"},"encoding":{"text":{"field":"t"},"color":{"field":"s","type":"nominal","scale":{"domain":["P","U","H","O"],"range":["#000000","#0B6BCB","#FF0000","#FF8C1F"]},"legend":null}}},
{"data":{"name":"a_yb"},"mark":{"type":"text","fontSize":48,"fontWeight":"bold","angle":270,"align":"left","baseline":"middle","color":"#000000"},"encoding":{"text":{"field":"t"}}},
{"data":{"name":"a_ys"},"mark":{"type":"text","fontSize":29,"fontWeight":"bold","angle":270,"align":"left","baseline":"middle","color":"#000000"},"encoding":{"text":{"field":"t"}}}
]},
{"width":659,"height":432,
"encoding":{"x":{"field":"x","type":"quantitative","scale":{"domain":[0,0.2],"nice":false,"zero":false},"axis":null},"y":{"field":"y","type":"quantitative","scale":{"domain":[-1.2,4.341],"nice":false,"zero":false},"axis":null}},
"resolve":{"axis":{"x":"independent","y":"independent"}},
"layer":[
{"data":{"values":[]},"mark":"point","encoding":{"x":{"field":"x","type":"quantitative","axis":{"orient":"bottom","values":[0,0.05,0.1,0.15,0.2],"format":".2~f","ticks":false,"domain":true,"labelPadding":6,"title":null}},"y":{"field":"y","type":"quantitative","axis":{"orient":"left","values":[-1,0,1,2,3,4],"format":".2~f","ticks":false,"domain":false,"labelPadding":6,"title":null}}}},
{"data":{"values":[]},"mark":"point","encoding":{"x":{"field":"x","type":"quantitative","axis":{"orient":"bottom","values":[0,0.05,0.1,0.15,0.2],"labels":false,"domain":false,"tickSize":-7,"title":null}},"y":{"field":"y","type":"quantitative","axis":{"orient":"left","values":[-1,0,1,2,3,4],"labels":false,"domain":false,"tickSize":-7,"title":null}}}},
{"data":{"values":[]},"mark":"point","encoding":{"x":{"field":"x","type":"quantitative","axis":{"orient":"bottom","values":[0.01,0.02,0.03,0.04,0.06,0.07,0.08,0.09,0.11,0.12,0.13,0.14,0.16,0.17,0.18,0.19],"labels":false,"domain":false,"tickSize":-4,"title":null}},"y":{"field":"y","type":"quantitative","axis":{"orient":"left","values":[-0.8,-0.6,-0.4,-0.2,0.2,0.4,0.6,0.8,1.2,1.4,1.6,1.8,2.2,2.4,2.6,2.8,3.2,3.4,3.6,3.8],"labels":false,"domain":false,"tickSize":-4,"title":null}}}},
{"data":{"values":[]},"mark":"point","encoding":{"x":{"field":"x","type":"quantitative","axis":{"orient":"top","offset":-11,"values":[0,0.05,0.1,0.15,0.2],"labels":false,"domain":true,"tickSize":-7,"title":null}},"y":{"field":"y","type":"quantitative","axis":{"orient":"right","values":[-1,0,1,2,3,4],"labels":false,"domain":false,"tickSize":-7,"title":null}}}},
{"data":{"values":[]},"mark":"point","encoding":{"x":{"field":"x","type":"quantitative","axis":{"orient":"top","offset":-11,"values":[0.01,0.02,0.03,0.04,0.06,0.07,0.08,0.09,0.11,0.12,0.13,0.14,0.16,0.17,0.18,0.19],"labels":false,"domain":false,"tickSize":-4,"title":null}},"y":{"field":"y","type":"quantitative","axis":{"orient":"right","values":[-0.8,-0.6,-0.4,-0.2,0.2,0.4,0.6,0.8,1.2,1.4,1.6,1.8,2.2,2.4,2.6,2.8,3.2,3.4,3.6,3.8],"labels":false,"domain":false,"tickSize":-4,"title":null}}}},
{"data":{"values":[{"x":0,"y":-1.2,"y2":4.2},{"x":0.2,"y":-1.2,"y2":4.2}]},"mark":{"type":"rule","color":"#333333","strokeWidth":1.2},"encoding":{"y2":{"field":"y2"}}},
{"data":{"values":[{"x":0,"x2":0.2,"y":0}]},"mark":{"type":"rule","color":"#bdbdbd","strokeWidth":2},"encoding":{"x2":{"field":"x2"}}},
{"data":{"name":"b_curves"},"transform":[{"filter":"datum.s != 'O'"}],"mark":{"type":"line","strokeWidth":2,"interpolate":"monotone"},"encoding":{"color":{"field":"s","type":"nominal","scale":{"domain":["P","U","H","O"],"range":["#000000","#0B6BCB","#FF0000","#FF8C1F"]},"legend":null}}},
{"data":{"name":"b_curves"},"transform":[{"filter":"datum.s == 'O'"}],"mark":{"type":"line","strokeWidth":2,"interpolate":"monotone","color":"#FF8C1F","strokeDash":[9,6]}},
{"data":{"values":[{"x":0.0184,"y":0.2},{"x":0.2,"y":1.87}]},"mark":{"type":"line","strokeWidth":2,"color":"#FF8C1F"}},
{"data":{"name":"b_curves"},"transform":[{"filter":"datum.s != 'O' && datum.k == 'max'"}],"mark":{"type":"point","filled":true,"size":34,"opacity":1},"encoding":{"color":{"field":"s","type":"nominal","scale":{"domain":["P","U","H","O"],"range":["#000000","#0B6BCB","#FF0000","#FF8C1F"]},"legend":null}}},
{"data":{"name":"b_curves"},"transform":[{"filter":"datum.s != 'O' && datum.k == 'min'"}],"mark":{"type":"point","filled":false,"size":30,"strokeWidth":1,"opacity":1},"encoding":{"color":{"field":"s","type":"nominal","scale":{"domain":["P","U","H","O"],"range":["#000000","#0B6BCB","#FF0000","#FF8C1F"]},"legend":null}}},
{"data":{"name":"b_av"},"mark":{"type":"point","filled":false,"shape":"M-1,-1L1,1M-1,1L1,-1","size":22,"strokeWidth":1,"opacity":1},"encoding":{"color":{"field":"s","type":"nominal","scale":{"domain":["P","U","H","O"],"range":["#000000","#0B6BCB","#FF0000","#FF8C1F"]},"legend":null}}},
{"data":{"name":"b_leg"},"mark":{"type":"rule","strokeWidth":2},"encoding":{"x2":{"field":"x2"},"color":{"field":"s","type":"nominal","scale":{"domain":["P","U","H","O"],"range":["#000000","#0B6BCB","#FF0000","#FF8C1F"]},"legend":null}}},
{"data":{"values":[{"x":0.00545,"x2":0.0151,"y":3.13}]},"mark":{"type":"rule","strokeWidth":2,"color":"#FF8C1F","strokeDash":[8,5]},"encoding":{"x2":{"field":"x2"}}},
{"data":{"values":[{"x":0.0174,"x2":0.0236,"y":3.34}]},"mark":{"type":"rule","strokeWidth":1.5,"color":"#FF8C1F"},"encoding":{"x2":{"field":"x2"}}},
{"data":{"name":"b_tb"},"mark":{"type":"text","fontSize":30,"align":"left","baseline":"middle"},"encoding":{"text":{"field":"t"},"color":{"field":"s","type":"nominal","scale":{"domain":["P","U","H","O"],"range":["#000000","#0B6BCB","#FF0000","#FF8C1F"]},"legend":null}}},
{"data":{"name":"b_ti"},"mark":{"type":"text","fontSize":30,"fontStyle":"italic","align":"left","baseline":"middle"},"encoding":{"text":{"field":"t"},"color":{"field":"s","type":"nominal","scale":{"domain":["P","U","H","O"],"range":["#000000","#0B6BCB","#FF0000","#FF8C1F"]},"legend":null}}},
{"data":{"name":"b_ts"},"mark":{"type":"text","fontSize":21,"align":"left","baseline":"middle"},"encoding":{"text":{"field":"t"},"color":{"field":"s","type":"nominal","scale":{"domain":["P","U","H","O"],"range":["#000000","#0B6BCB","#FF0000","#FF8C1F"]},"legend":null}}}
]},
{"width":659,"height":422,
"encoding":{"x":{"field":"x","type":"quantitative","scale":{"domain":[1,1.2],"nice":false,"zero":false},"axis":null},"y":{"field":"y","type":"quantitative","scale":{"domain":[-2,17],"nice":false,"zero":false},"axis":null}},
"resolve":{"axis":{"x":"independent","y":"independent"}},
"layer":[
{"data":{"values":[]},"mark":"point","encoding":{"x":{"field":"x","type":"quantitative","axis":{"orient":"bottom","values":[1,1.05,1.1,1.15,1.2],"format":".2~f","ticks":false,"domain":true,"labelPadding":6,"title":null}},"y":{"field":"y","type":"quantitative","axis":{"orient":"left","values":[0,5,10,15],"format":".2~f","ticks":false,"domain":true,"labelPadding":6,"title":null}}}},
{"data":{"values":[]},"mark":"point","encoding":{"x":{"field":"x","type":"quantitative","axis":{"orient":"bottom","values":[1,1.05,1.1,1.15,1.2],"labels":false,"domain":false,"tickSize":-7,"title":null}},"y":{"field":"y","type":"quantitative","axis":{"orient":"left","values":[0,5,10,15],"labels":false,"domain":false,"tickSize":-7,"title":null}}}},
{"data":{"values":[]},"mark":"point","encoding":{"x":{"field":"x","type":"quantitative","axis":{"orient":"bottom","values":[1.01,1.02,1.03,1.04,1.06,1.07,1.08,1.09,1.11,1.12,1.13,1.14,1.16,1.17,1.18,1.19],"labels":false,"domain":false,"tickSize":-4,"title":null}},"y":{"field":"y","type":"quantitative","axis":{"orient":"left","values":[-1,1,2,3,4,6,7,8,9,11,12,13,14,16],"labels":false,"domain":false,"tickSize":-4,"title":null}}}},
{"data":{"values":[]},"mark":"point","encoding":{"x":{"field":"x","type":"quantitative","axis":{"orient":"top","values":[1,1.05,1.1,1.15,1.2],"labels":false,"domain":true,"tickSize":-7,"title":null}},"y":{"field":"y","type":"quantitative","axis":{"orient":"right","values":[0,5,10,15],"labels":false,"domain":true,"tickSize":-7,"title":null}}}},
{"data":{"values":[]},"mark":"point","encoding":{"x":{"field":"x","type":"quantitative","axis":{"orient":"top","values":[1.01,1.02,1.03,1.04,1.06,1.07,1.08,1.09,1.11,1.12,1.13,1.14,1.16,1.17,1.18,1.19],"labels":false,"domain":false,"tickSize":-4,"title":null}},"y":{"field":"y","type":"quantitative","axis":{"orient":"right","values":[-1,1,2,3,4,6,7,8,9,11,12,13,14,16],"labels":false,"domain":false,"tickSize":-4,"title":null}}}},
{"data":{"values":[{"x":1,"x2":1.2,"y":0}]},"mark":{"type":"rule","color":"#bdbdbd","strokeWidth":2},"encoding":{"x2":{"field":"x2"}}},
{"data":{"values":[{"x":1,"x2":1.2,"y":11.47}]},"mark":{"type":"rule","color":"#c4c4c4","strokeWidth":2,"strokeDash":[12,7]},"encoding":{"x2":{"field":"x2"}}},
{"data":{"name":"c_curves"},"transform":[{"filter":"datum.s != 'O'"}],"mark":{"type":"line","strokeWidth":2,"interpolate":"monotone"},"encoding":{"color":{"field":"s","type":"nominal","scale":{"domain":["P","U","H","O"],"range":["#000000","#0B6BCB","#FF0000","#FF8C1F"]},"legend":null}}},
{"data":{"name":"c_curves"},"transform":[{"filter":"datum.s == 'O'"}],"mark":{"type":"line","strokeWidth":2,"interpolate":"monotone","color":"#FF8C1F","strokeDash":[9,6]}},
{"data":{"values":[{"x":1.0,"y":6.77},{"x":1.2,"y":7.63}]},"mark":{"type":"line","strokeWidth":2,"color":"#FF8C1F"}},
{"data":{"name":"c_curves"},"transform":[{"filter":"datum.s != 'O' && datum.k == 'max'"}],"mark":{"type":"point","filled":true,"size":34,"opacity":1},"encoding":{"color":{"field":"s","type":"nominal","scale":{"domain":["P","U","H","O"],"range":["#000000","#0B6BCB","#FF0000","#FF8C1F"]},"legend":null}}},
{"data":{"name":"c_curves"},"transform":[{"filter":"datum.s != 'O' && datum.k == 'min'"}],"mark":{"type":"point","filled":false,"size":30,"strokeWidth":1,"opacity":1},"encoding":{"color":{"field":"s","type":"nominal","scale":{"domain":["P","U","H","O"],"range":["#000000","#0B6BCB","#FF0000","#FF8C1F"]},"legend":null}}},
{"data":{"name":"c_av"},"mark":{"type":"point","filled":false,"shape":"M-1,-1L1,1M-1,1L1,-1","size":22,"strokeWidth":1,"opacity":1},"encoding":{"color":{"field":"s","type":"nominal","scale":{"domain":["P","U","H","O"],"range":["#000000","#0B6BCB","#FF0000","#FF8C1F"]},"legend":null}}},
{"data":{"name":"c_br"},"mark":{"type":"rule","color":"#555555","strokeWidth":1.2},"encoding":{"x2":{"field":"x2"},"y2":{"field":"y2"}}},
{"data":{"name":"c_an"},"mark":{"type":"text","fontSize":32,"align":"left","baseline":"middle","color":"#000000"},"encoding":{"text":{"field":"t"}}},
{"data":{"name":"c_ani"},"mark":{"type":"text","fontSize":32,"fontStyle":"italic","align":"left","baseline":"middle","color":"#000000"},"encoding":{"text":{"field":"t"}}},
{"data":{"name":"c_ans"},"mark":{"type":"text","fontSize":22,"align":"left","baseline":"middle","color":"#000000"},"encoding":{"text":{"field":"t"}}},
{"data":{"name":"c_tb"},"mark":{"type":"text","fontSize":30,"align":"left","baseline":"middle","color":"#000000"},"encoding":{"text":{"field":"t"}}},
{"data":{"name":"c_ts"},"mark":{"type":"text","fontSize":21,"align":"left","baseline":"middle","color":"#000000"},"encoding":{"text":{"field":"t"}}}
]},
{"width":659,"height":422,
"encoding":{"x":{"field":"x","type":"quantitative","scale":{"domain":[6,6.2],"nice":false,"zero":false},"axis":null},"y":{"field":"y","type":"quantitative","scale":{"domain":[-2,16],"nice":false,"zero":false},"axis":null}},
"resolve":{"axis":{"x":"independent","y":"independent"}},
"layer":[
{"data":{"values":[]},"mark":"point","encoding":{"x":{"field":"x","type":"quantitative","axis":{"orient":"bottom","values":[6,6.05,6.1,6.15,6.2],"format":".2~f","ticks":false,"domain":true,"labelPadding":6,"title":null}},"y":{"field":"y","type":"quantitative","axis":{"orient":"left","values":[0,5,10,15],"format":".2~f","ticks":false,"domain":true,"labelPadding":6,"title":null}}}},
{"data":{"values":[]},"mark":"point","encoding":{"x":{"field":"x","type":"quantitative","axis":{"orient":"bottom","values":[6,6.05,6.1,6.15,6.2],"labels":false,"domain":false,"tickSize":-7,"title":null}},"y":{"field":"y","type":"quantitative","axis":{"orient":"left","values":[0,5,10,15],"labels":false,"domain":false,"tickSize":-7,"title":null}}}},
{"data":{"values":[]},"mark":"point","encoding":{"x":{"field":"x","type":"quantitative","axis":{"orient":"bottom","values":[6.01,6.02,6.03,6.04,6.06,6.07,6.08,6.09,6.11,6.12,6.13,6.14,6.16,6.17,6.18,6.19],"labels":false,"domain":false,"tickSize":-4,"title":null}},"y":{"field":"y","type":"quantitative","axis":{"orient":"left","values":[-1,1,2,3,4,6,7,8,9,11,12,13,14],"labels":false,"domain":false,"tickSize":-4,"title":null}}}},
{"data":{"values":[]},"mark":"point","encoding":{"x":{"field":"x","type":"quantitative","axis":{"orient":"top","values":[6,6.05,6.1,6.15,6.2],"labels":false,"domain":true,"tickSize":-7,"title":null}},"y":{"field":"y","type":"quantitative","axis":{"orient":"right","values":[0,5,10,15],"labels":false,"domain":true,"tickSize":-7,"title":null}}}},
{"data":{"values":[]},"mark":"point","encoding":{"x":{"field":"x","type":"quantitative","axis":{"orient":"top","values":[6.01,6.02,6.03,6.04,6.06,6.07,6.08,6.09,6.11,6.12,6.13,6.14,6.16,6.17,6.18,6.19],"labels":false,"domain":false,"tickSize":-4,"title":null}},"y":{"field":"y","type":"quantitative","axis":{"orient":"right","values":[-1,1,2,3,4,6,7,8,9,11,12,13,14],"labels":false,"domain":false,"tickSize":-4,"title":null}}}},
{"data":{"values":[{"x":6,"x2":6.2,"y":0}]},"mark":{"type":"rule","color":"#bdbdbd","strokeWidth":2},"encoding":{"x2":{"field":"x2"}}},
{"data":{"name":"d_curves"},"transform":[{"filter":"datum.s != 'O'"}],"mark":{"type":"line","strokeWidth":2,"interpolate":"monotone"},"encoding":{"color":{"field":"s","type":"nominal","scale":{"domain":["P","U","H","O"],"range":["#000000","#0B6BCB","#FF0000","#FF8C1F"]},"legend":null}}},
{"data":{"name":"d_curves"},"transform":[{"filter":"datum.s == 'O'"}],"mark":{"type":"line","strokeWidth":2,"interpolate":"monotone","color":"#FF8C1F","strokeDash":[9,6]}},
{"data":{"values":[{"x":6.0,"y":11.43},{"x":6.2,"y":11.43}]},"mark":{"type":"line","strokeWidth":2,"color":"#FF8C1F"}},
{"data":{"values":[{"x":6,"x2":6.2,"y":11.52}]},"mark":{"type":"rule","color":"#c4c4c4","strokeWidth":2,"strokeDash":[12,7]},"encoding":{"x2":{"field":"x2"}}},
{"data":{"name":"d_curves"},"transform":[{"filter":"datum.s != 'O' && datum.k == 'max'"}],"mark":{"type":"point","filled":true,"size":34,"opacity":1},"encoding":{"color":{"field":"s","type":"nominal","scale":{"domain":["P","U","H","O"],"range":["#000000","#0B6BCB","#FF0000","#FF8C1F"]},"legend":null}}},
{"data":{"name":"d_curves"},"transform":[{"filter":"datum.s != 'O' && datum.k == 'min'"}],"mark":{"type":"point","filled":false,"size":30,"strokeWidth":1,"opacity":1},"encoding":{"color":{"field":"s","type":"nominal","scale":{"domain":["P","U","H","O"],"range":["#000000","#0B6BCB","#FF0000","#FF8C1F"]},"legend":null}}},
{"data":{"name":"d_av"},"mark":{"type":"point","filled":false,"shape":"M-1,-1L1,1M-1,1L1,-1","size":22,"strokeWidth":1,"opacity":1},"encoding":{"color":{"field":"s","type":"nominal","scale":{"domain":["P","U","H","O"],"range":["#000000","#0B6BCB","#FF0000","#FF8C1F"]},"legend":null}}},
{"data":{"name":"d_br"},"mark":{"type":"rule","color":"#555555","strokeWidth":1.2},"encoding":{"x2":{"field":"x2"},"y2":{"field":"y2"}}},
{"data":{"name":"d_an"},"mark":{"type":"text","fontSize":32,"align":"left","baseline":"middle","color":"#000000"},"encoding":{"text":{"field":"t"}}},
{"data":{"name":"d_ani"},"mark":{"type":"text","fontSize":32,"fontStyle":"italic","align":"left","baseline":"middle","color":"#000000"},"encoding":{"text":{"field":"t"}}},
{"data":{"name":"d_ans"},"mark":{"type":"text","fontSize":22,"align":"left","baseline":"middle","color":"#000000"},"encoding":{"text":{"field":"t"}}},
{"data":{"name":"d_tb"},"mark":{"type":"text","fontSize":30,"align":"left","baseline":"middle","color":"#000000"},"encoding":{"text":{"field":"t"}}},
{"data":{"name":"d_ts"},"mark":{"type":"text","fontSize":21,"align":"left","baseline":"middle","color":"#000000"},"encoding":{"text":{"field":"t"}}},
{"data":{"name":"d_xt"},"mark":{"type":"text","fontSize":44,"align":"left","baseline":"middle","color":"#000000"},"encoding":{"text":{"field":"t"}}},
{"data":{"name":"d_xti"},"mark":{"type":"text","fontSize":44,"fontStyle":"italic","align":"left","baseline":"middle","color":"#000000"},"encoding":{"text":{"field":"t"}}}
]}
]
}
